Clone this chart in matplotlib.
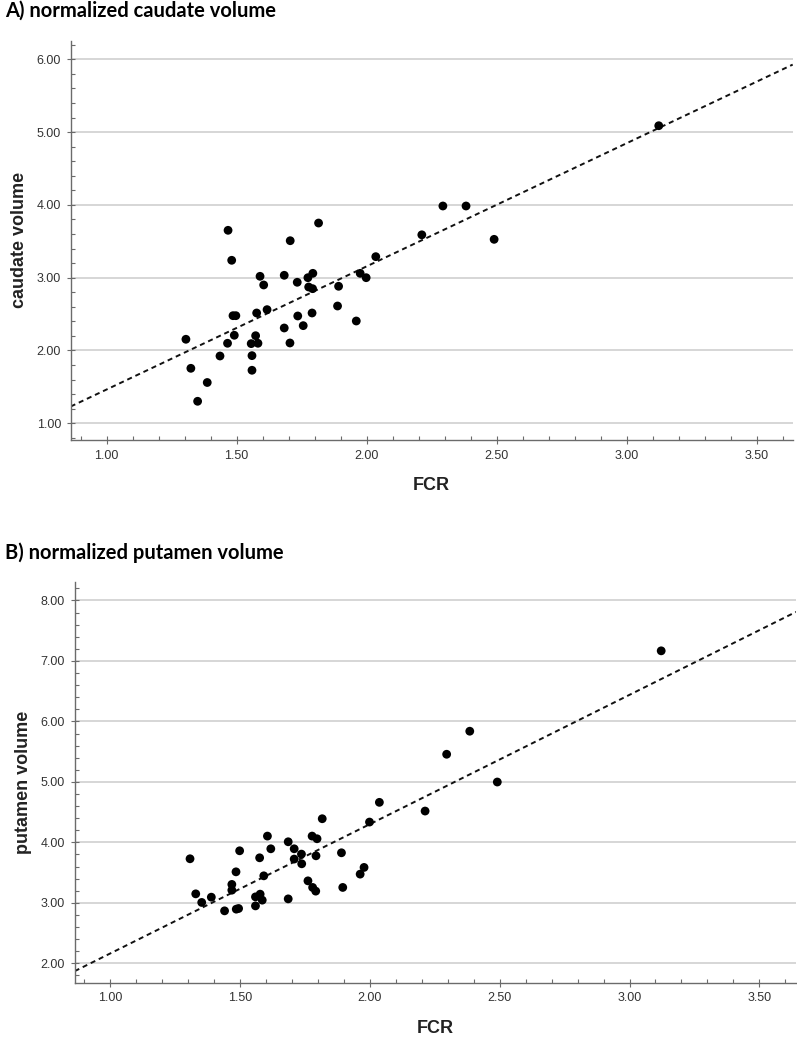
import numpy as np
import matplotlib
matplotlib.use('Agg')
import matplotlib.pyplot as plt
from matplotlib.ticker import MultipleLocator, FormatStrFormatter

plt.rcParams['font.family'] = ['Liberation Sans', 'DejaVu Sans']

# --- dati ---------------------------------------------------------------
fcr_a = [1.305, 1.324, 1.350, 1.387, 1.436, 1.465, 1.467, 1.481, 1.486,
         1.491, 1.497, 1.556, 1.559, 1.559, 1.573, 1.577, 1.582, 1.590,
         1.604, 1.617, 1.683, 1.683, 1.705, 1.706, 1.733, 1.735, 1.756,
         1.774, 1.777, 1.790, 1.792, 1.793, 1.815, 1.888, 1.892, 1.960,
         1.975, 1.998, 2.035, 2.212, 2.293, 2.382, 2.490, 3.123]
caudate = [2.154, 1.755, 1.302, 1.560, 1.924, 2.099, 3.651, 3.239, 2.478,
           2.209, 2.478, 2.094, 1.929, 1.728, 2.203, 2.515, 2.099, 3.019,
           2.900, 2.561, 3.033, 2.309, 2.103, 3.508, 2.937, 2.474, 2.341,
           3.000, 2.872, 2.515, 2.849, 3.060, 3.751, 2.611, 2.882, 2.405,
           3.060, 3.000, 3.289, 3.589, 3.985, 3.985, 3.527, 5.088]

fcr_b = [1.308, 1.330, 1.353, 1.390, 1.441, 1.469, 1.469, 1.485, 1.486,
         1.495, 1.499, 1.560, 1.560, 1.576, 1.578, 1.586, 1.592, 1.606,
         1.619, 1.686, 1.686, 1.709, 1.709, 1.737, 1.738, 1.762, 1.778,
         1.780, 1.792, 1.793, 1.797, 1.817, 1.891, 1.896, 1.963, 1.978,
         1.999, 2.037, 2.213, 2.296, 2.385, 2.491, 3.122]
putamen = [3.729, 3.149, 3.007, 3.094, 2.868, 3.305, 3.210, 3.513, 2.896,
           2.907, 3.861, 2.950, 3.099, 3.745, 3.144, 3.045, 3.447, 4.104,
           3.894, 4.010, 3.066, 3.894, 3.724, 3.806, 3.646, 3.364, 4.104,
           3.255, 3.194, 3.778, 4.060, 4.391, 3.828, 3.255, 3.475, 3.586,
           4.336, 4.662, 4.518, 5.457, 5.838, 4.998, 7.167]

W, H = 797, 1039
fig = plt.figure(figsize=(W / 100, H / 100), dpi=100)

GRID = '#cfcfcf'
AXC = '#6b6b6b'
TXT = '#333333'


def pannello(rect, x, y, xlim, ylim, ylab, titolo, ty):
    ax = fig.add_axes(rect)
    x = np.asarray(x)
    y = np.asarray(y)
    b, a = np.polyfit(x, y, 1)
    xl = np.array(xlim)
    ax.plot(xl, a + b * xl, color='#111111', lw=1.4, ls=(0, (2.6, 2.0)),
            zorder=2)
    ax.scatter(x, y, s=40, color='black', edgecolors='none', zorder=3)
    ax.set_xlim(*xlim)
    ax.set_ylim(*ylim)
    ax.xaxis.set_major_locator(MultipleLocator(0.5))
    ax.xaxis.set_minor_locator(MultipleLocator(0.1))
    ax.yaxis.set_major_locator(MultipleLocator(1.0))
    ax.yaxis.set_minor_locator(MultipleLocator(0.2))
    ax.xaxis.set_major_formatter(FormatStrFormatter('%.2f'))
    ax.yaxis.set_major_formatter(FormatStrFormatter('%.2f'))
    ax.grid(axis='y', which='major', color=GRID, lw=1.2)
    ax.set_axisbelow(True)
    for s in ('top', 'right'):
        ax.spines[s].set_visible(False)
    for s in ('left', 'bottom'):
        ax.spines[s].set_color(AXC)
        ax.spines[s].set_linewidth(1.0)
    ax.tick_params(which='major', direction='inout', length=6, width=0.8,
                   color=AXC, labelsize=9, labelcolor=TXT, pad=4)
    ax.tick_params(which='minor', direction='in', length=3.2, width=0.8,
                   color=AXC)
    ax.set_xlabel('FCR', fontsize=13, fontweight='bold', color='#222222',
                  labelpad=11)
    ax.set_ylabel(ylab, fontsize=13, fontweight='bold', color='#222222',
                  labelpad=6)
    fig.text(5 / W, 1 - ty / H, titolo, fontsize=14.5, fontweight='bold',
             family='Lato', va='center', ha='left', color='black')
    return ax


pannello([70.7 / W, 1 - 440 / H, 722 / W, 399.3 / H], fcr_a, caudate,
         (0.862, 3.638), (0.77, 6.256), 'caudate volume',
         'A) normalized caudate volume', 11)
pannello([74.7 / W, 1 - 982.7 / H, 721.3 / W, 401 / H], fcr_b, putamen,
         (0.864, 3.641), (1.68, 8.31), 'putamen volume',
         'B) normalized putamen volume', 553)

fig.savefig('out.png', dpi=100)
